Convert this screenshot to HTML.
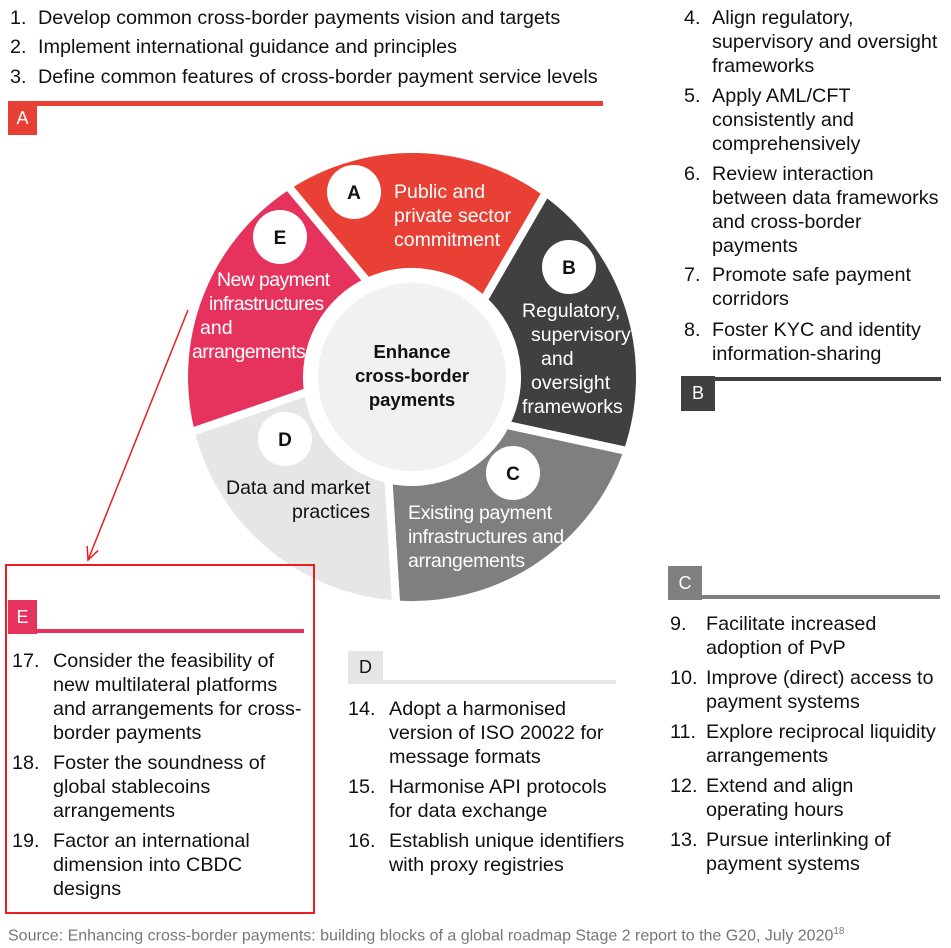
<!DOCTYPE html>
<html><head><meta charset="utf-8"><style>
body{margin:0;width:951px;height:944px;background:#fff;position:relative;overflow:hidden;font-family:"Liberation Sans",sans-serif;color:#111}
.t{position:absolute;font-size:19.8px;line-height:24px;white-space:nowrap}
.d{font-size:19.5px}
.w{color:#fff}
.box{position:absolute;color:#fff;font-size:18px;display:flex;align-items:center;justify-content:center}
.ln{position:absolute}
</style></head><body>
<svg width="951" height="944" style="position:absolute;left:0;top:0">
<g stroke="#fff" stroke-width="8" stroke-linejoin="round">
<path d="M287.8,185.8 A228,228 0 0 1 546.0,192.5 L483.6,300.2 A105,105 0 0 0 367.6,281.8 Z" fill="#e84034"/>
<path d="M546.0,192.5 A228,228 0 0 1 627.6,451.2 L505.6,424.7 A105,105 0 0 0 483.6,300.2 Z" fill="#404040"/>
<path d="M627.6,451.2 A228,228 0 0 1 396.1,604.5 L388.4,479.3 A105,105 0 0 0 505.6,424.7 Z" fill="#7f7f7f"/>
<path d="M396.1,604.5 A228,228 0 0 1 190.8,432.2 L308.0,391.6 A105,105 0 0 0 388.4,479.3 Z" fill="#e6e6e6"/>
<path d="M190.8,432.2 A228,228 0 0 1 287.8,185.8 L367.6,281.8 A105,105 0 0 0 308.0,391.6 Z" fill="#e5335e"/>
</g>
<circle cx="412" cy="377" r="94" fill="#f1f1f1"/>
<g fill="#fff"><circle cx="354" cy="192" r="27"/><circle cx="280" cy="237" r="27"/><circle cx="569" cy="267" r="27"/><circle cx="285" cy="439" r="27"/><circle cx="513" cy="473" r="27"/></g>
<g font-family="Liberation Sans" font-weight="bold" font-size="19" text-anchor="middle" fill="#111">
<text x="354" y="199">A</text><text x="280" y="244">E</text><text x="569" y="274">B</text><text x="285" y="446">D</text><text x="513" y="480">C</text>
</g>
<rect x="6" y="565" width="308" height="348" fill="none" stroke="#ee1c1c" stroke-width="2"/>
<g stroke="#ee1c1c" stroke-width="1.5" fill="none"><line x1="188" y1="310" x2="88" y2="560"/><polyline points="98.2,550.4 88,560 87.2,546"/></g>
</svg>
<div class="ln" style="left:8px;top:101px;width:595px;height:5px;background:#e84034"></div>
<div class="box" style="left:8px;top:101px;width:29px;height:34px;background:#e84034">A</div>
<div class="ln" style="left:681px;top:377px;width:260px;height:4px;background:#404040"></div>
<div class="box" style="left:681px;top:376px;width:34px;height:35px;background:#404040">B</div>
<div class="ln" style="left:668px;top:595px;width:272px;height:4px;background:#7f7f7f"></div>
<div class="box" style="left:668px;top:566px;width:34px;height:34px;background:#7f7f7f">C</div>
<div class="ln" style="left:8px;top:629px;width:296px;height:4px;background:#e5335e"></div>
<div class="box" style="left:8px;top:600px;width:29px;height:34px;background:#e5335e">E</div>
<div class="ln" style="left:348px;top:680px;width:268px;height:4px;background:#e6e6e6"></div>
<div class="box" style="left:348px;top:651px;width:35px;height:33px;background:#e6e6e6;color:#111">D</div>
<div class="t d w" style="left:394px;top:180px">Public and<br>private sector<br>commitment</div>
<div class="t d w" style="left:217px;top:268px;letter-spacing:-0.6px">New payment</div>
<div class="t d w" style="left:209px;top:292px;letter-spacing:-0.6px">infrastructures</div>
<div class="t d w" style="left:200px;top:316px">and</div>
<div class="t d w" style="left:192px;top:340px;letter-spacing:-0.6px">arrangements</div>
<div class="t d w" style="left:522px;top:299px">Regulatory,</div>
<div class="t d w" style="left:531px;top:323px">supervisory</div>
<div class="t d w" style="left:541px;top:347px">and</div>
<div class="t d w" style="left:531px;top:371px">oversight</div>
<div class="t d w" style="left:522px;top:395px">frameworks</div>
<div class="t d" style="left:226px;top:476px">Data and market</div>
<div class="t d" style="left:292px;top:500px">practices</div>
<div class="t d w" style="left:408px;top:501px;letter-spacing:-0.3px">Existing payment<br>infrastructures and<br>arrangements</div>
<div class="t" style="left:317px;top:340px;width:190px;text-align:center;font-weight:bold;font-size:18.5px">Enhance<br>cross-border<br>payments</div>
<div class="t" style="left:10px;top:6px">1.</div><div class="t" style="left:38px;top:6px">Develop common cross-border payments vision and targets</div>
<div class="t" style="left:10px;top:35px">2.</div><div class="t" style="left:38px;top:35px">Implement international guidance and principles</div>
<div class="t" style="left:10px;top:65px">3.</div><div class="t" style="left:38px;top:65px">Define common features of cross-border payment service levels</div>
<div class="t" style="left:684px;top:6px">4.</div><div class="t" style="left:712px;top:6px">Align regulatory,<br>supervisory and oversight<br>frameworks</div>
<div class="t" style="left:684px;top:84px">5.</div><div class="t" style="left:712px;top:84px">Apply AML/CFT<br>consistently and<br>comprehensively</div>
<div class="t" style="left:684px;top:162px">6.</div><div class="t" style="left:712px;top:162px">Review interaction<br>between data frameworks<br>and cross-border<br>payments</div>
<div class="t" style="left:684px;top:263px">7.</div><div class="t" style="left:712px;top:263px">Promote safe payment<br>corridors</div>
<div class="t" style="left:684px;top:318px">8.</div><div class="t" style="left:712px;top:318px">Foster KYC and identity<br>information-sharing</div>
<div class="t" style="left:670px;top:612px">9.</div><div class="t" style="left:706px;top:612px">Facilitate increased<br>adoption of PvP</div>
<div class="t" style="left:670px;top:666px">10.</div><div class="t" style="left:706px;top:666px">Improve (direct) access to<br>payment systems</div>
<div class="t" style="left:670px;top:720px">11.</div><div class="t" style="left:706px;top:720px">Explore reciprocal liquidity<br>arrangements</div>
<div class="t" style="left:670px;top:774px">12.</div><div class="t" style="left:706px;top:774px">Extend and align<br>operating hours</div>
<div class="t" style="left:670px;top:828px">13.</div><div class="t" style="left:706px;top:828px">Pursue interlinking of<br>payment systems</div>
<div class="t" style="left:348px;top:697px">14.</div><div class="t" style="left:389px;top:697px">Adopt a harmonised<br>version of ISO 20022 for<br>message formats</div>
<div class="t" style="left:348px;top:775px">15.</div><div class="t" style="left:389px;top:775px">Harmonise API protocols<br>for data exchange</div>
<div class="t" style="left:348px;top:829px">16.</div><div class="t" style="left:389px;top:829px">Establish unique identifiers<br>with proxy registries</div>
<div class="t" style="left:12px;top:649px">17.</div><div class="t" style="left:53px;top:649px">Consider the feasibility of<br>new multilateral platforms<br>and arrangements for cross-<br>border payments</div>
<div class="t" style="left:12px;top:751px">18.</div><div class="t" style="left:53px;top:751px">Foster the soundness of<br>global stablecoins<br>arrangements</div>
<div class="t" style="left:12px;top:829px">19.</div><div class="t" style="left:53px;top:829px">Factor an international<br>dimension into CBDC<br>designs</div>
<div class="t" style="left:8px;top:920px;font-size:16px;color:#777">Source: Enhancing cross-border payments: building blocks of a global roadmap Stage 2 report to the G20, July 2020<sup style="font-size:10px">18</sup></div>
</body></html>
